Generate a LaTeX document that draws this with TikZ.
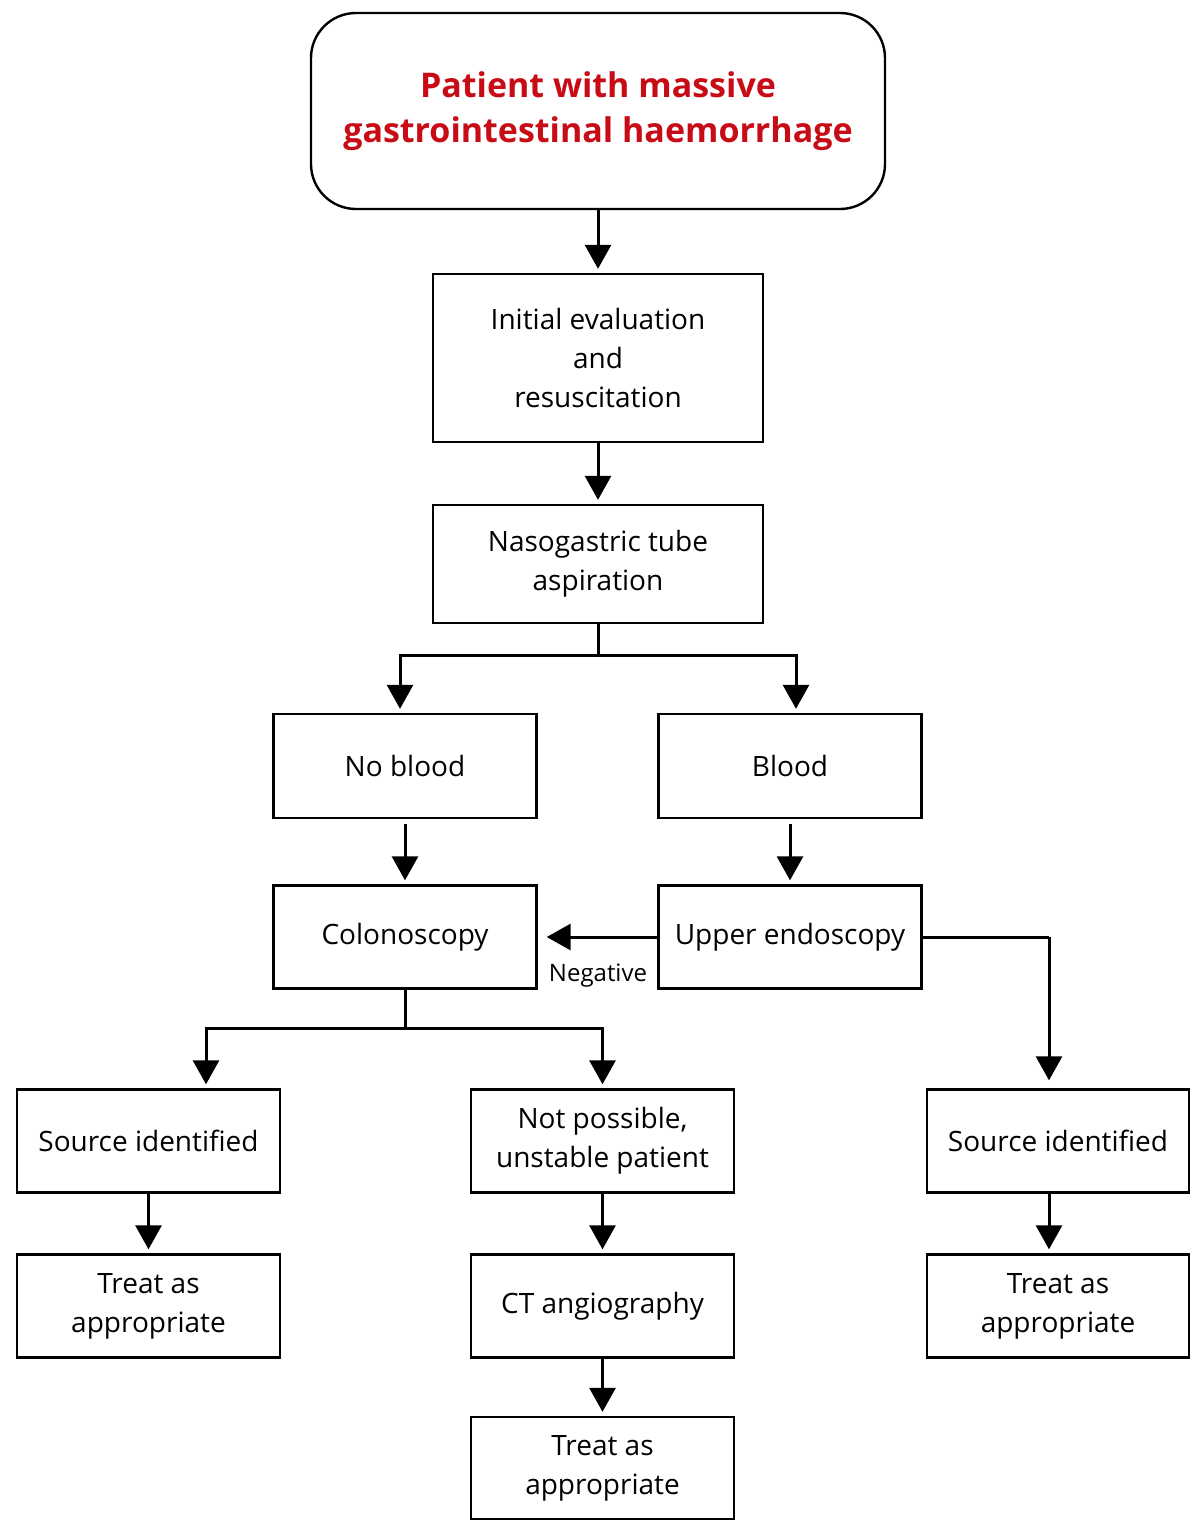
\documentclass[tikz,border=0pt]{standalone}
\usepackage{fontspec}
\setmainfont{Open Sans}
\usetikzlibrary{arrows.meta,calc}
\definecolor{titlered}{RGB}{200,12,22}
\begin{document}
\begin{tikzpicture}[x=1pt,y=-1pt,
  box/.style={draw, line width=2.4pt, align=center, inner sep=0pt,
    minimum width=263pt, minimum height=104pt,
    font=\fontsize{28}{39}\selectfont},
  arr/.style={line width=3pt, -{Triangle[length=24pt,width=26pt]}, shorten >=4pt},
  seg/.style={line width=3pt}
]
\useasboundingbox (0,0) rectangle (1200,1521);
\fill[white] (0,0) rectangle (1200,1521);

\node[draw, line width=2.4pt, rounded corners=45pt, minimum width=574pt, minimum height=196pt,
  align=center, inner sep=0pt, text=titlered, font=\bfseries\fontsize{34}{45}\selectfont]
  (top) at (598,111) {Patient with massive\\gastrointestinal haemorrhage};
\node[box, minimum width=330pt, minimum height=168pt] (init) at (598,358) {Initial evaluation\\and\\resuscitation};
\node[box, minimum width=330pt, minimum height=118pt] (naso) at (598,564) {Nasogastric tube\\aspiration};
\node[box] (noblood) at (405,766) {No blood};
\node[box] (blood) at (790,766) {Blood};
\node[box, minimum height=103pt] (colon) at (405,937) {Colonoscopy};
\node[box, minimum height=103pt] (upper) at (790,937) {Upper endoscopy};
\node[box, minimum height=103pt] (srcL) at (148.5,1141) {Source identified};
\node[box, minimum height=103pt] (notp) at (602.5,1141) {Not possible,\\unstable patient};
\node[box, minimum height=103pt, minimum width=262pt] (srcR) at (1058,1141) {Source identified};
\node[box, minimum height=103pt] (treatL) at (148.5,1306) {Treat as\\appropriate};
\node[box, minimum height=103pt] (ct) at (602.5,1306) {CT angiography};
\node[box, minimum height=103pt, minimum width=262pt] (treatR) at (1058,1306) {Treat as\\appropriate};
\node[box, minimum height=102pt] (treatB) at (602.5,1468) {Treat as\\appropriate};
\node[font=\fontsize{24}{28}\selectfont, inner sep=0pt] (neg) at (598,976) {Negative};

\coordinate (n1) at (598,655);
\coordinate (c1) at (405,1028);
\coordinate (u1) at (1049,937);

\draw[arr] (top.south) -- (init.north);
\draw[arr] (init.south) -- (naso.north);
\draw[seg] (naso.south) -- (n1);
\draw[arr] (n1) -| ([xshift=-5pt]noblood.north);
\draw[arr] (n1) -| ([xshift=6pt]blood.north);
\draw[arr, shorten <=5pt] (noblood.south) -- (colon.north);
\draw[arr, shorten <=5pt] (blood.south) -- (upper.north);
\draw[arr, shorten >=9pt] (upper.west) -- (colon.east);
\draw[seg] (upper.east) -- (u1);
\draw[arr, shorten >=8pt] (u1) -- ([xshift=-9pt]srcR.north);
\draw[seg] (colon.south) -- (c1);
\draw[arr] (c1) -| ([xshift=57.5pt]srcL.north);
\draw[arr] (c1) -| (notp.north);
\draw[arr] (srcL.south) -- (treatL.north);
\draw[arr] (notp.south) -- (ct.north);
\draw[arr] ([xshift=-9pt]srcR.south) -- ([xshift=-9pt]treatR.north);
\draw[arr] (ct.south) -- (treatB.north);
\end{tikzpicture}
\end{document}
